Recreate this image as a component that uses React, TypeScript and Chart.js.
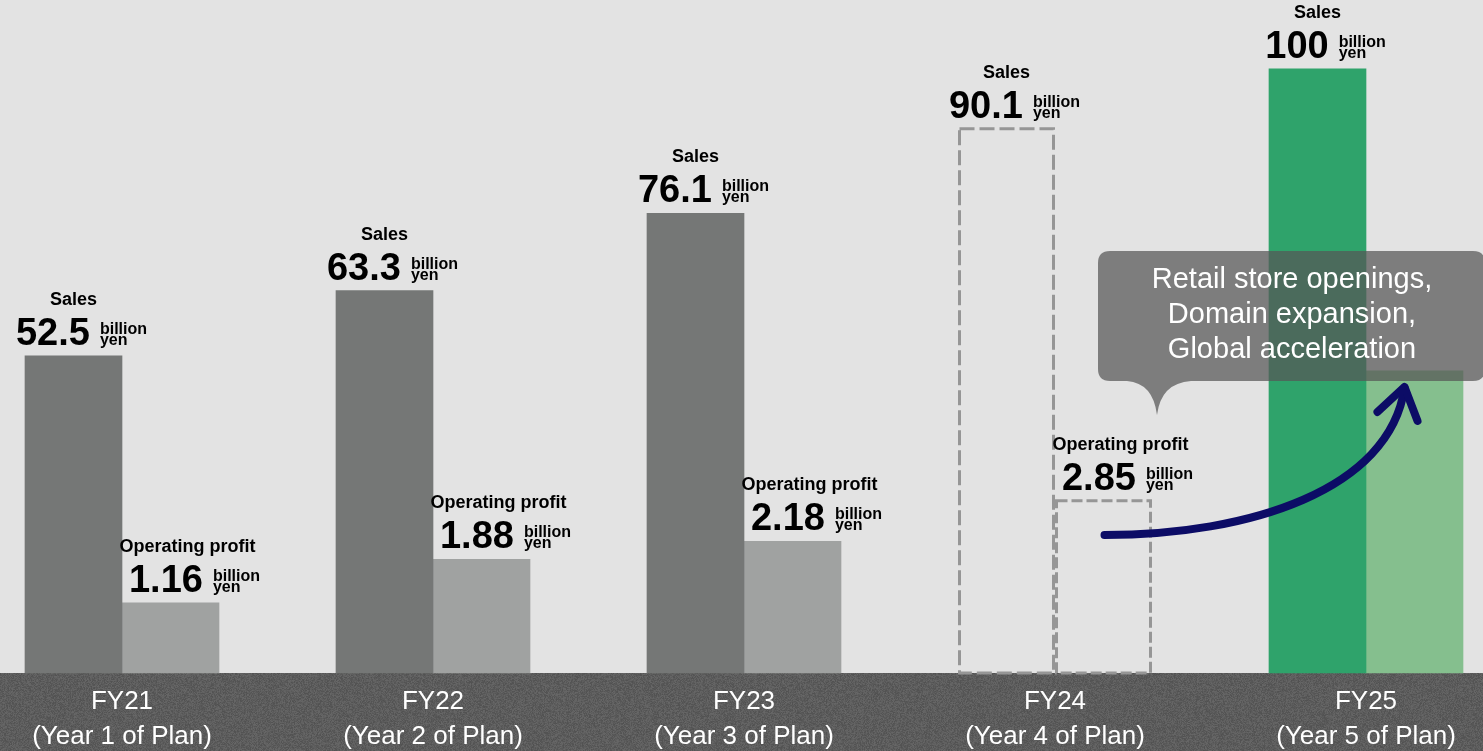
import React, { useEffect, useRef } from 'react';
import { Chart, registerables } from 'chart.js';

Chart.register(...registerables);

const FONT = '"Liberation Sans", Arial, Helvetica, sans-serif';

const categories = ['FY21', 'FY22', 'FY23', 'FY24', 'FY25'];
const subLabels = ['(Year 1 of Plan)', '(Year 2 of Plan)', '(Year 3 of Plan)', '(Year 4 of Plan)', '(Year 5 of Plan)'];
const salesValues = [52.5, 63.3, 76.1, 90.1, 100];
const profitValues = [1.16, 1.88, 2.18, 2.85, 5.0];
const barKinds = ['actual', 'actual', 'actual', 'forecast', 'target'];
const profitLabelShown = [true, true, true, true, false];
const salesTitle = 'Sales';
const profitTitle = 'Operating profit';
const unitLines = ['billion', 'yen'];
const calloutLines = ['Retail store openings,', 'Domain expansion,', 'Global acceleration'];

const SALES_MAX = 111.4;
const PROFIT_MAX = 11.14;

const salesColors: Record<string, string> = { actual: '#757776', forecast: 'rgba(0,0,0,0)', target: '#2fa36b' };
const profitColors: Record<string, string> = { actual: '#a0a2a1', forecast: 'rgba(0,0,0,0)', target: '#85bf8e' };

let bandTexture: HTMLCanvasElement | null = null;
function getBandTexture(w: number, h: number): HTMLCanvasElement {
  if (bandTexture && bandTexture.width === w && bandTexture.height === h) return bandTexture;
  const c = document.createElement('canvas');
  c.width = w;
  c.height = h;
  const cx = c.getContext('2d') as CanvasRenderingContext2D;
  const img = cx.createImageData(w, h);
  for (let y = 0; y < h; y++) {
    for (let x = 0; x < w; x++) {
      let n = (x * 374761393 + y * 668265263) | 0;
      n = Math.imul(n ^ (n >>> 13), 1274126177);
      n = (n ^ (n >>> 16)) & 0xff;
      const v = 92 + Math.round((n / 255 - 0.5) * 22);
      const i = (y * w + x) * 4;
      img.data[i] = v;
      img.data[i + 1] = v;
      img.data[i + 2] = v;
      img.data[i + 3] = 255;
    }
  }
  cx.putImageData(img, 0, 0);
  bandTexture = c;
  return c;
}

function drawValueLabel(ctx: CanvasRenderingContext2D, cx: number, barTop: number, title: string, value: number, titleDx: number, groupDx: number) {
  ctx.fillStyle = '#000000';
  ctx.textBaseline = 'alphabetic';
  ctx.textAlign = 'center';
  ctx.font = `bold 18px ${FONT}`;
  ctx.fillText(title, cx + titleDx, barTop - 51);

  const num = String(value);
  const numFont = `bold 38px ${FONT}`;
  const unitFont = `bold 16px ${FONT}`;
  ctx.font = numFont;
  const nw = ctx.measureText(num).width;
  ctx.font = unitFont;
  const uw = Math.max(...unitLines.map((u) => ctx.measureText(u).width));
  const gap = 10;
  const total = nw + gap + uw;
  const left = cx + groupDx - total / 2;
  ctx.textAlign = 'left';
  ctx.font = numFont;
  ctx.fillText(num, left, barTop - 11);
  ctx.font = unitFont;
  ctx.fillText(unitLines[0], left + nw + gap, barTop - 22);
  ctx.fillText(unitLines[1], left + nw + gap, barTop - 11);
}

const overlayPlugin = {
  id: 'overlay',
  beforeDraw(chart: any) {
    const { ctx, chartArea, width, height } = chart;
    ctx.save();
    ctx.fillStyle = '#e3e3e3';
    ctx.fillRect(0, 0, width, height);
    const bh = Math.round(height - chartArea.bottom);
    ctx.drawImage(getBandTexture(width, bh), 0, chartArea.bottom);
    ctx.restore();
  },
  afterDatasetsDraw(chart: any) {
    const { ctx, width } = chart;
    const salesMeta = chart.getDatasetMeta(0);
    const profitMeta = chart.getDatasetMeta(1);
    ctx.save();

    // dashed outlines for forecast bars
    barKinds.forEach((kind, i) => {
      if (kind !== 'forecast') return;
      [salesMeta.data[i], profitMeta.data[i]].forEach((el: any, k: number) => {
        const l = el.x - el.width / 2 + 1.5;
        const r = el.x + el.width / 2 - 1.5;
        ctx.strokeStyle = '#969696';
        ctx.lineWidth = 3;
        ctx.setLineDash(k === 0 ? [15, 5] : [11, 4]);
        ctx.beginPath();
        ctx.rect(l, el.y, r - l, el.base - el.y);
        ctx.stroke();
      });
    });
    ctx.setLineDash([]);

    // value labels
    categories.forEach((_, i) => {
      const s = salesMeta.data[i];
      drawValueLabel(ctx, s.x, s.y, salesTitle, salesValues[i], 0, 8);
      if (profitLabelShown[i]) {
        const p = profitMeta.data[i];
        drawValueLabel(ctx, p.x, p.y, profitTitle, profitValues[i], 17, 24);
      }
    });

    // callout
    const anchor = profitMeta.data[3];
    const bx = anchor.x - anchor.width / 2 + 43;
    const bt = 251;
    const bb = 381;
    const br = width + 2;
    const rad = 12;
    const tipX = bx + 59;
    ctx.fillStyle = 'rgba(86,86,86,0.72)';
    ctx.beginPath();
    ctx.moveTo(bx + rad, bt);
    ctx.lineTo(br - rad, bt);
    ctx.quadraticCurveTo(br, bt, br, bt + rad);
    ctx.lineTo(br, bb - rad);
    ctx.quadraticCurveTo(br, bb, br - rad, bb);
    ctx.lineTo(tipX + 34, bb);
    ctx.quadraticCurveTo(tipX + 4, bb + 2, tipX, bb + 34);
    ctx.quadraticCurveTo(tipX - 4, bb + 2, tipX - 30, bb);
    ctx.lineTo(bx + rad, bb);
    ctx.quadraticCurveTo(bx, bb, bx, bb - rad);
    ctx.lineTo(bx, bt + rad);
    ctx.quadraticCurveTo(bx, bt, bx + rad, bt);
    ctx.closePath();
    ctx.fill();

    ctx.fillStyle = '#ffffff';
    ctx.font = `29px ${FONT}`;
    ctx.textAlign = 'center';
    ctx.textBaseline = 'alphabetic';
    const tcx = 1292;
    calloutLines.forEach((line, k) => {
      ctx.fillText(line, tcx, 288 + k * 35);
    });

    // arrow
    const a0 = profitMeta.data[3];
    const a1 = profitMeta.data[4];
    const sx = a0.x + 1;
    const sy = 535;
    const ex = a1.x - 10;
    const ey = a1.y + 17;
    ctx.strokeStyle = '#0c0c66';
    ctx.lineWidth = 8;
    ctx.lineCap = 'round';
    ctx.lineJoin = 'round';
    ctx.beginPath();
    ctx.moveTo(sx, sy);
    ctx.bezierCurveTo(sx + 145, sy, ex - 15, ey + 102, ex, ey);
    ctx.stroke();
    ctx.beginPath();
    ctx.moveTo(ex - 27, ey + 24);
    ctx.lineTo(ex, ey - 1);
    ctx.lineTo(ex + 13, ey + 33);
    ctx.stroke();

    ctx.restore();
  },
};

export default function App() {
  const canvasRef = useRef<HTMLCanvasElement | null>(null);

  useEffect(() => {
    if (!canvasRef.current) return;
    const chart = new Chart(canvasRef.current, {
      type: 'bar',
      data: {
        labels: categories.map((c, i) => [c, subLabels[i]]),
        datasets: [
          {
            label: salesTitle,
            data: salesValues,
            yAxisID: 'y',
            backgroundColor: barKinds.map((k) => salesColors[k]),
            borderWidth: 0,
            barThickness: 97,
            clip: false as any,
          },
          {
            label: profitTitle,
            data: profitValues,
            yAxisID: 'y2',
            backgroundColor: barKinds.map((k) => profitColors[k]),
            borderWidth: 0,
            barThickness: 97,
            clip: false as any,
          },
        ],
      },
      options: {
        responsive: false,
        animation: false,
        events: [],
        layout: { padding: { left: 122, right: 117, top: 0, bottom: 0 } },
        plugins: {
          legend: { display: false },
          tooltip: { enabled: false },
        },
        scales: {
          x: {
            offset: false,
            grid: { display: false, drawTicks: false },
            border: { display: false },
            ticks: {
              color: '#ffffff',
              font: { family: FONT, size: 26, lineHeight: 1.346 },
              padding: 11,
              maxRotation: 0,
              autoSkip: false,
            },
            afterFit: (scale: any) => {
              scale.height = 78;
            },
          },
          y: { display: false, min: 0, max: SALES_MAX },
          y2: { display: false, min: 0, max: PROFIT_MAX, position: 'right' },
        },
      },
      plugins: [overlayPlugin],
    });
    return () => chart.destroy();
  }, []);

  return (
    <div style={{ position: 'absolute', left: 0, top: 0, width: 1483, height: 751 }}>
      <canvas ref={canvasRef} width={1483} height={751} style={{ display: 'block' }} />
    </div>
  );
}
